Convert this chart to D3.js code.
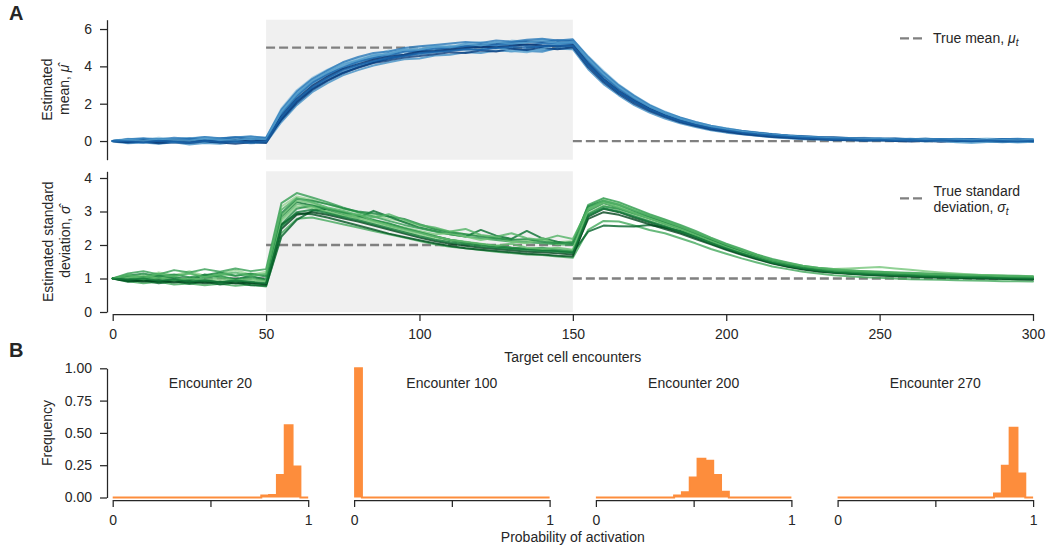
<!DOCTYPE html>
<html><head><meta charset="utf-8">
<script src="https://cdn.jsdelivr.net/npm/d3@7"></script>
<style>
body{margin:0;background:#fff;}
svg{font-family:"Liberation Sans",Arial,sans-serif;}
</style></head><body><svg id="c" width="1053" height="552"></svg>
<script>
// ---------- data ----------
const encounters = d3.range(0, 301, 5);   // sample grid of the traces
const shadedRange = [50, 150];
const xTicks = [0, 50, 100, 150, 200, 250, 300];
const muTicks = [0, 2, 4, 6];
const sdTicks = [0, 1, 2, 3, 4];
const trueMean = [{from:0,to:50,value:0},{from:50,to:150,value:5},{from:150,to:300,value:0}];
const trueSd = [{from:0,to:50,value:1},{from:50,to:150,value:2},{from:150,to:300,value:1}];

const muTraces = [
[0.02,0.12,0.08,0.18,0.10,0.15,0.22,0.12,0.18,0.25,0.16,
 1.75,2.72,3.38,3.82,4.18,4.42,4.62,4.85,4.80,5.02,5.10,5.05,5.22,5.30,5.18,5.38,5.32,5.45,5.30,5.42,
 4.55,3.75,3.02,2.45,1.95,1.58,1.25,1.02,0.82,0.68,0.55,0.47,0.38,0.30,0.27,0.22,0.20,0.15,0.18,0.12,0.15,0.10,0.13,0.08,0.12,0.09,0.14,0.10,0.07,0.11],
[-0.02,-0.12,-0.08,-0.15,-0.06,-0.18,-0.10,-0.14,-0.05,-0.12,-0.08,
 1.02,1.92,2.62,3.10,3.52,3.80,4.05,4.22,4.38,4.42,4.58,4.62,4.75,4.72,4.85,4.80,4.92,4.88,4.95,4.92,
 3.85,3.05,2.45,1.92,1.52,1.20,0.95,0.75,0.58,0.45,0.36,0.28,0.20,0.15,0.10,0.08,0.04,0.06,0.02,0.04,0.00,0.03,-0.02,0.01,-0.04,0.00,-0.03,-0.06,-0.02,-0.05],
[0.00,0.08,-0.04,0.10,0.02,0.12,-0.02,0.09,0.04,0.14,0.06,
 1.50,2.48,3.18,3.52,4.02,4.30,4.42,4.72,4.60,4.90,4.82,5.08,4.95,5.18,5.00,5.25,5.08,5.02,5.28,5.22,
 4.35,3.50,2.82,2.30,1.80,1.48,1.15,0.95,0.74,0.62,0.48,0.42,0.32,0.28,0.20,0.19,0.12,0.14,0.08,0.12,0.06,0.10,0.04,0.09,0.05,0.11,0.03,0.08,0.04,0.07],
[0.00,0.05,0.12,0.04,0.10,0.16,0.08,0.02,0.12,0.18,0.10,
 1.62,2.58,3.25,3.75,4.05,4.38,4.55,4.70,4.88,4.85,5.02,5.12,5.08,5.22,5.25,5.12,5.32,5.25,5.18,5.35,
 4.42,3.62,2.92,2.35,1.88,1.52,1.22,0.98,0.78,0.62,0.52,0.40,0.34,0.26,0.22,0.17,0.15,0.12,0.10,0.11,0.07,0.09,0.06,0.10,0.05,0.08,0.07,0.04,0.09,0.06],
[0.00,-0.06,0.02,-0.10,-0.02,0.04,-0.08,0.00,0.05,-0.04,0.02,
 1.22,2.15,2.82,3.35,3.70,4.02,4.25,4.40,4.58,4.65,4.75,4.88,4.90,4.92,5.02,4.95,4.82,4.78,5.00,5.08,
 4.05,3.22,2.60,2.08,1.65,1.32,1.05,0.85,0.66,0.54,0.42,0.35,0.26,0.22,0.16,0.14,0.09,0.10,0.05,0.07,0.03,0.06,0.02,0.04,-0.01,0.03,0.00,-0.03,0.02,-0.01],
[0.00,0.06,0.00,0.10,0.04,0.12,0.06,0.14,0.20,0.10,0.15,
 1.12,2.02,2.72,3.22,3.62,3.95,4.20,4.42,4.60,4.75,4.85,4.95,5.08,5.15,5.20,5.28,5.35,5.30,5.40,5.35,
 4.12,3.28,2.62,2.12,1.70,1.38,1.12,0.92,0.75,0.62,0.52,0.44,0.36,0.30,0.26,0.21,0.20,0.16,0.15,0.12,0.13,0.10,0.12,0.08,0.11,0.09,0.06,0.10,0.08,0.05],
[0.00,0.02,0.04,-0.02,0.06,0.03,0.08,0.02,0.07,0.04,0.06,
 1.40,2.35,3.02,3.50,3.88,4.18,4.38,4.55,4.65,4.78,4.85,4.92,4.98,5.05,5.08,5.12,5.15,5.10,5.18,5.20,
 4.22,3.40,2.75,2.20,1.76,1.40,1.12,0.90,0.72,0.58,0.47,0.38,0.30,0.24,0.19,0.15,0.12,0.10,0.08,0.07,0.06,0.05,0.05,0.04,0.06,0.03,0.05,0.04,0.02,0.04],
[0.00,0.10,0.15,0.08,0.18,0.12,0.22,0.15,0.20,0.24,0.18,
 1.68,2.65,3.32,3.78,4.22,4.50,4.72,4.80,4.98,5.08,5.15,5.22,5.30,5.25,5.38,5.32,5.42,5.48,5.38,5.45,
 4.50,3.68,2.98,2.42,1.92,1.55,1.26,1.02,0.82,0.67,0.55,0.45,0.36,0.30,0.24,0.20,0.16,0.15,0.12,0.14,0.10,0.12,0.08,0.11,0.07,0.10,0.06,0.09,0.12,0.08],
[0.00,-0.08,-0.04,-0.12,-0.06,-0.10,-0.02,-0.08,-0.14,-0.06,-0.10,
 1.18,2.10,2.78,3.25,3.65,3.92,4.18,4.32,4.48,4.55,4.65,4.75,4.72,4.85,4.80,4.95,4.88,5.00,4.92,5.02,
 3.95,3.15,2.52,2.00,1.60,1.28,1.00,0.80,0.62,0.50,0.38,0.30,0.22,0.18,0.12,0.10,0.06,0.05,0.02,0.04,0.00,-0.02,0.02,-0.04,0.00,-0.03,-0.01,-0.05,-0.02,-0.04],
[0.00,0.04,-0.02,0.06,-0.05,0.03,-0.04,0.08,0.00,0.05,0.02,
 1.48,2.45,3.08,3.65,3.98,4.28,4.52,4.68,4.82,4.88,5.00,5.05,4.95,5.12,5.02,4.82,4.75,4.95,5.15,5.22,
 4.25,3.42,2.78,2.22,1.78,1.42,1.14,0.92,0.74,0.60,0.48,0.38,0.30,0.24,0.20,0.15,0.12,0.10,0.09,0.06,0.05,0.04,0.02,0.00,-0.06,-0.10,-0.05,-0.02,-0.08,-0.04],
[0.00,0.03,0.08,0.02,-0.02,0.06,0.03,0.10,0.06,0.02,0.10,
 1.45,2.40,3.12,3.58,3.92,4.25,4.45,4.60,4.78,4.82,4.95,5.00,5.08,5.02,5.15,5.20,5.15,5.22,5.25,5.28,
 4.30,3.48,2.80,2.25,1.80,1.45,1.16,0.94,0.75,0.61,0.49,0.40,0.32,0.26,0.21,0.17,0.14,0.11,0.10,0.08,0.09,0.06,0.08,0.05,0.07,0.04,0.06,0.08,0.05,0.03],
[0.00,-0.05,0.03,-0.04,0.06,-0.02,0.03,-0.06,0.04,-0.03,0.03,
 1.32,2.25,2.95,3.45,3.85,4.12,4.35,4.52,4.62,4.78,4.82,4.90,4.98,5.05,5.02,5.10,5.18,5.12,5.08,5.15,
 4.15,3.32,2.68,2.15,1.72,1.36,1.08,0.86,0.68,0.55,0.44,0.35,0.28,0.22,0.17,0.14,0.11,0.09,0.07,0.05,0.04,0.06,0.02,0.05,0.01,0.04,0.06,0.00,0.03,0.01],
[0.00,0.07,0.02,0.11,0.06,0.02,0.13,0.08,0.04,0.15,0.09,
 1.58,2.52,3.22,3.68,4.12,4.32,4.60,4.65,4.92,4.90,5.08,5.02,5.20,5.12,5.30,5.22,5.28,5.38,5.25,5.32,
 4.38,3.58,2.88,2.32,1.85,1.50,1.20,0.97,0.78,0.63,0.51,0.42,0.33,0.28,0.22,0.19,0.14,0.13,0.10,0.12,0.08,0.07,0.10,0.06,0.09,0.05,0.08,0.06,0.04,0.07],
[0.00,-0.03,-0.08,0.02,-0.04,-0.09,0.01,-0.05,-0.02,-0.07,-0.01,
 1.28,2.22,2.88,3.38,3.80,4.08,4.28,4.48,4.55,4.70,4.78,4.82,4.92,4.88,4.98,5.05,5.00,5.08,5.12,5.10,
 4.10,3.28,2.64,2.12,1.70,1.35,1.07,0.86,0.69,0.56,0.45,0.36,0.29,0.23,0.18,0.14,0.10,0.09,0.06,0.07,0.03,0.05,0.01,0.04,0.02,-0.01,0.03,0.00,-0.02,0.01]
];

const sdTraces = [
[1.00,1.12,1.05,1.18,1.10,1.22,1.08,1.15,1.25,1.12,1.20,
 3.15,3.45,3.35,3.22,3.08,2.98,2.90,2.78,2.70,2.58,2.48,2.40,2.32,2.28,2.22,2.18,2.12,2.15,2.08,2.12,
 3.15,3.38,3.25,3.08,2.90,2.75,2.58,2.38,2.18,2.02,1.85,1.70,1.55,1.45,1.36,1.30,1.26,1.24,1.22,1.20,1.18,1.16,1.15,1.13,1.12,1.10,1.09,1.08,1.06,1.05],
[1.00,0.92,0.86,0.90,0.82,0.85,0.80,0.84,0.78,0.82,0.76,
 2.35,2.78,2.82,2.72,2.62,2.52,2.42,2.32,2.22,2.12,2.02,1.95,1.90,1.85,1.80,1.76,1.72,1.70,1.66,1.62,
 2.45,2.72,2.70,2.58,2.45,2.35,2.20,2.05,1.88,1.74,1.60,1.48,1.36,1.28,1.20,1.15,1.10,1.07,1.04,1.02,1.00,0.98,0.97,0.96,0.95,0.94,0.93,0.92,0.92,0.91],
[1.00,1.05,0.96,1.10,1.02,0.94,1.12,1.04,0.98,1.08,0.96,
 2.85,3.28,3.18,3.05,2.92,2.80,3.02,2.85,2.68,2.52,2.42,2.32,2.25,2.45,2.28,2.18,2.42,2.20,2.10,2.02,
 3.02,3.25,3.10,2.95,2.80,2.64,2.48,2.30,2.12,1.95,1.80,1.66,1.52,1.42,1.34,1.28,1.22,1.20,1.17,1.15,1.13,1.11,1.10,1.08,1.07,1.06,1.05,1.04,1.03,1.02],
[1.00,0.97,0.95,0.99,0.94,0.97,0.93,0.96,0.92,0.94,0.90,
 2.72,3.15,3.10,3.00,2.88,2.78,2.66,2.55,2.42,2.30,2.20,2.12,2.05,2.00,1.95,1.91,1.88,1.86,1.83,1.82,
 2.95,3.18,3.05,2.90,2.75,2.60,2.45,2.28,2.10,1.93,1.78,1.63,1.50,1.40,1.31,1.25,1.21,1.18,1.16,1.14,1.12,1.10,1.09,1.08,1.07,1.05,1.04,1.03,1.02,1.01],
[1.00,1.15,1.22,1.12,1.25,1.18,1.28,1.20,1.30,1.22,1.28,
 3.25,3.55,3.42,3.28,3.12,2.98,2.85,2.72,2.60,2.50,2.40,2.32,2.25,2.20,2.15,2.10,2.08,2.05,2.02,2.00,
 3.20,3.40,3.28,3.10,2.92,2.76,2.60,2.42,2.22,2.04,1.88,1.72,1.58,1.48,1.38,1.32,1.28,1.25,1.22,1.20,1.18,1.17,1.15,1.14,1.12,1.11,1.10,1.09,1.08,1.07],
[1.00,0.90,0.94,0.86,0.92,0.84,0.90,0.82,0.88,0.80,0.78,
 2.25,2.75,3.02,3.08,2.98,2.86,2.74,2.62,2.50,2.38,2.26,2.16,2.08,2.02,1.96,1.92,1.88,1.85,1.82,1.78,
 2.40,2.58,2.56,2.55,2.60,2.52,2.42,2.28,2.10,1.94,1.78,1.63,1.50,1.38,1.29,1.23,1.19,1.16,1.14,1.12,1.10,1.08,1.07,1.05,1.04,1.03,1.02,1.01,1.00,0.99],
[1.00,1.04,1.10,1.02,1.08,1.14,1.05,1.12,1.08,1.15,1.10,
 2.88,3.32,3.25,3.08,2.95,2.82,2.70,2.62,2.52,2.42,2.32,2.35,2.25,2.15,2.22,2.10,2.05,2.20,2.02,2.10,
 3.10,3.30,3.15,2.98,2.82,2.66,2.50,2.33,2.15,1.98,1.82,1.68,1.55,1.44,1.36,1.30,1.28,1.30,1.32,1.34,1.30,1.26,1.22,1.18,1.15,1.12,1.10,1.08,1.06,1.05],
[1.00,0.98,1.05,0.99,1.04,0.97,1.02,1.08,0.96,1.03,0.95,
 2.62,3.08,3.18,3.08,2.98,2.88,2.75,2.65,2.50,2.38,2.26,2.15,2.08,2.02,1.98,1.92,1.88,1.92,1.86,1.82,
 2.92,3.15,3.08,2.94,2.80,2.64,2.48,2.31,2.13,1.96,1.80,1.64,1.50,1.40,1.31,1.25,1.20,1.17,1.14,1.12,1.10,1.09,1.07,1.06,1.05,1.04,1.03,1.02,1.01,1.00],
[1.00,0.93,0.98,0.90,0.96,0.89,0.94,0.88,0.93,0.86,0.84,
 2.60,2.95,2.92,2.82,2.70,2.58,2.46,2.34,2.24,2.14,2.05,1.97,1.90,1.86,1.82,1.78,1.74,1.72,1.68,1.66,
 2.85,3.08,2.98,2.82,2.68,2.53,2.38,2.22,2.04,1.88,1.73,1.59,1.46,1.36,1.28,1.22,1.18,1.15,1.12,1.10,1.08,1.06,1.05,1.03,1.02,1.01,1.00,0.99,0.98,0.97],
[1.00,1.06,0.98,1.04,0.95,1.02,0.96,1.03,0.94,0.99,0.92,
 2.78,3.22,3.15,2.98,2.85,2.92,2.72,2.58,2.46,2.36,2.25,2.16,2.10,2.04,1.98,2.04,1.92,1.88,1.92,1.86,
 3.05,3.26,3.12,2.95,2.80,2.64,2.48,2.30,2.12,1.94,1.78,1.63,1.50,1.40,1.32,1.26,1.22,1.19,1.16,1.14,1.12,1.10,1.09,1.08,1.07,1.06,1.05,1.04,1.03,1.02],
[1.00,1.08,1.15,1.06,1.12,1.04,1.10,1.18,1.08,1.14,1.06,
 2.95,3.38,3.32,3.22,3.10,3.00,2.95,2.85,2.78,2.62,2.48,2.38,2.32,2.25,2.20,2.15,2.18,2.10,2.05,2.08,
 3.15,3.32,3.20,3.02,2.86,2.70,2.54,2.36,2.18,2.00,1.84,1.69,1.55,1.44,1.35,1.29,1.25,1.22,1.19,1.17,1.15,1.13,1.12,1.11,1.09,1.08,1.07,1.06,1.05,1.04],
[1.00,0.95,0.91,0.94,0.88,0.92,0.86,0.90,0.85,0.88,0.82,
 2.48,2.90,2.98,2.90,2.80,2.70,2.58,2.46,2.34,2.22,2.12,2.04,1.98,1.92,1.88,1.84,1.80,1.78,1.75,1.72,
 2.78,2.98,2.90,2.76,2.62,2.48,2.34,2.18,2.02,1.86,1.71,1.57,1.45,1.35,1.27,1.21,1.17,1.14,1.11,1.09,1.07,1.06,1.04,1.03,1.02,1.01,1.00,0.99,0.98,0.97],
[1.00,1.10,1.02,1.14,1.06,1.16,1.04,1.12,1.18,1.08,1.14,
 3.05,3.40,3.28,3.12,3.02,2.90,2.82,2.92,2.75,2.60,2.52,2.40,2.48,2.30,2.25,2.35,2.20,2.15,2.28,2.18,
 3.08,3.32,3.20,3.04,2.88,2.72,2.56,2.38,2.20,2.02,1.86,1.70,1.56,1.46,1.37,1.31,1.27,1.24,1.21,1.19,1.17,1.15,1.14,1.12,1.11,1.10,1.09,1.07,1.06,1.05],
[1.00,0.96,1.00,0.93,0.97,0.91,0.95,0.89,0.94,0.90,0.86,
 2.55,2.98,3.05,2.95,2.84,2.74,2.62,2.50,2.38,2.26,2.16,2.08,2.02,1.96,1.92,1.88,1.85,1.82,1.80,1.76,
 2.88,3.10,3.00,2.85,2.70,2.56,2.40,2.24,2.06,1.90,1.75,1.61,1.48,1.38,1.30,1.24,1.19,1.16,1.13,1.11,1.09,1.08,1.06,1.05,1.04,1.03,1.02,1.01,1.00,0.99]
];

// histograms: frequency per bin, 25 bins of width 0.04 on [0,1]
const binWidth = 0.04;
const histTitles = ["Encounter 20", "Encounter 100", "Encounter 200", "Encounter 270"];
const hist20  = [0,0,0,0,0,0,0,0,0,0,0,0,0,0,0,0,0,0,0,0.015,0.02,0.175,0.56,0.24,0];
const hist100 = [1.0,0,0,0,0,0,0,0,0,0,0,0,0,0,0,0,0,0,0,0,0,0,0,0,0];
const hist200 = [0,0,0,0,0,0,0,0,0,0,0.015,0.04,0.155,0.30,0.285,0.175,0.045,0,0,0,0,0,0,0,0];
const hist270 = [0,0,0,0,0,0,0,0,0,0,0,0,0,0,0,0,0,0,0,0,0.03,0.245,0.54,0.185,0];
const histTicks = [0, 0.25, 0.5, 0.75, 1];
const histXTicks = [0, 0.5, 1];

// ---------- drawing ----------
const svg = d3.select("#c");
const ink = "#262626";
const FS = 14;

const x = d3.scaleLinear().domain([0, 300]).range([112.7, 1033]);
const yMu = d3.scaleLinear().domain([-1, 6.5]).range([159.7, 19.7]);
const ySd = d3.scaleLinear().domain([0, 4.2]).range([312, 171.3]);

function shade(i, n) { return 0.4 + 0.6 * ((i * 5) % n) / (n - 1); }

function panel(y, traces, truth, interp) {
  const g = svg.append("g");
  const [d0, d1] = y.domain();
  g.append("rect").attr("x", x(shadedRange[0])).attr("width", x(shadedRange[1]) - x(shadedRange[0]))
    .attr("y", y(d1)).attr("height", y(d0) - y(d1)).attr("fill", "#f0f0f0");
  truth.forEach(s => {
    g.append("line").attr("x1", x(s.from)).attr("x2", x(s.to))
      .attr("y1", y(s.value)).attr("y2", y(s.value))
      .attr("stroke", "#808080").attr("stroke-width", 2.3).attr("stroke-dasharray", "9,4");
  });
  const line = d3.line().x((d, i) => x(encounters[i])).y(d => y(d));
  traces.forEach((t, i) => {
    g.append("path").attr("d", line(t)).attr("fill", "none")
      .attr("stroke", interp(shade(i, traces.length))).attr("stroke-opacity", 0.8)
      .attr("stroke-width", 2).attr("stroke-linejoin", "round").attr("stroke-linecap", "round");
  });
  return g;
}

function styleAxis(g) {
  g.selectAll("path,line").attr("stroke", ink).attr("stroke-width", 1.25);
  g.selectAll("text").attr("fill", ink).attr("font-size", FS).attr("font-family", "Liberation Sans, Arial, sans-serif");
}

panel(yMu, muTraces, trueMean, d3.interpolateBlues);
panel(ySd, sdTraces, trueSd, d3.interpolateGreens);

svg.append("g").attr("transform", "translate(107,0)")
  .call(d3.axisLeft(yMu).tickValues(muTicks).tickSize(7).tickSizeOuter(0).tickPadding(8).tickFormat(d3.format("d"))).call(styleAxis);
svg.append("g").attr("transform", "translate(107,0)")
  .call(d3.axisLeft(ySd).tickValues(sdTicks).tickSize(7).tickSizeOuter(0).tickPadding(8).tickFormat(d3.format("d"))).call(styleAxis);
svg.append("g").attr("transform", "translate(0,314)")
  .call(d3.axisBottom(x).tickValues(xTicks).tickSize(7).tickSizeOuter(0).tickPadding(8).tickFormat(d3.format("d"))).call(styleAxis);

function txt(xp, yp, opts = {}) {
  const t = svg.append("text").attr("fill", ink)
    .attr("font-size", opts.size || 14).attr("text-anchor", opts.anchor || "start");
  if (opts.bold) t.attr("font-weight", "bold");
  if (opts.rotate) t.attr("transform", `translate(${xp},${yp}) rotate(-90)`);
  else t.attr("x", xp).attr("y", yp);
  return t;
}

// panel letters
txt(9, 19.5, {size: 20, bold: true}).text("A");
txt(9, 357, {size: 20, bold: true}).text("B");

// y labels
txt(52, 89.7, {anchor: "middle", rotate: true}).text("Estimated");
{
  const t = txt(68.5, 89.7, {anchor: "middle", rotate: true});
  t.append("tspan").text("mean, ");
  t.append("tspan").attr("font-style", "italic").text("μ\u0302");
}
txt(53, 241.7, {anchor: "middle", rotate: true}).text("Estimated standard");
{
  const t = txt(70, 241.7, {anchor: "middle", rotate: true});
  t.append("tspan").text("deviation, ");
  t.append("tspan").attr("font-style", "italic").text("σ\u0302");
}
txt(572.8, 361.5, {anchor: "middle"}).text("Target cell encounters");

// legends
function legendLine(yp) {
  svg.append("line").attr("x1", 900).attr("x2", 922).attr("y1", yp).attr("y2", yp)
    .attr("stroke", "#808080").attr("stroke-width", 2.3).attr("stroke-dasharray", "9,4");
}
legendLine(38.3);
{
  const t = txt(933, 42.5);
  t.append("tspan").text("True mean, ");
  t.append("tspan").attr("font-style", "italic").text("μ");
  t.append("tspan").attr("font-style", "italic").attr("font-size", 10).attr("dy", 3).text("t");
}
legendLine(198.3);
txt(933.5, 196).text("True standard");
{
  const t = txt(933.5, 211.5);
  t.append("tspan").text("deviation, ");
  t.append("tspan").attr("font-style", "italic").text("σ");
  t.append("tspan").attr("font-style", "italic").attr("font-size", 10).attr("dy", 3).text("t");
}

// ---------- panel B ----------
const hists = [hist20, hist100, hist200, hist270];
const hLefts = [112.7, 354.1, 595.9, 837.6];
const hWidth = 195.5;
const yH = d3.scaleLinear().domain([0, 1]).range([497.5, 368.3]);
const orange = "#fd8d3c";

hists.forEach((h, k) => {
  const hx = d3.scaleLinear().domain([0, 1]).range([hLefts[k], hLefts[k] + hWidth]);
  const pts = h.map((v, i) => [i * binWidth, v]);
  pts.push([1, h[h.length - 1]]);
  const area = d3.area().x(d => hx(d[0])).y0(yH(0)).y1(d => yH(d[1])).curve(d3.curveStepAfter);
  svg.append("path").attr("d", area(pts)).attr("fill", orange).attr("stroke", "none");
  const top = d3.line().x(d => hx(d[0])).y(d => yH(d[1])).curve(d3.curveStepAfter);
  svg.append("path").attr("d", top(pts)).attr("fill", "none")
    .attr("stroke", orange).attr("stroke-width", 2);
  svg.append("g").attr("transform", "translate(0,500)")
    .call(d3.axisBottom(hx).tickValues(histXTicks).tickSize(7).tickSizeOuter(0).tickPadding(8)
      .tickFormat(d => d === 0.5 ? "" : d3.format("d")(d))).call(styleAxis);
  txt(hLefts[k] + hWidth / 2, 388.3, {anchor: "middle"}).text(histTitles[k]);
});
svg.append("g").attr("transform", "translate(107,0)")
  .call(d3.axisLeft(yH).tickValues(histTicks).tickSize(7).tickSizeOuter(0).tickPadding(8)
    .tickFormat(d3.format(".2f"))).call(styleAxis);
txt(52, 433, {anchor: "middle", rotate: true}).text("Frequency");
txt(572.8, 541.5, {anchor: "middle"}).text("Probability of activation");
</script></body></html>
